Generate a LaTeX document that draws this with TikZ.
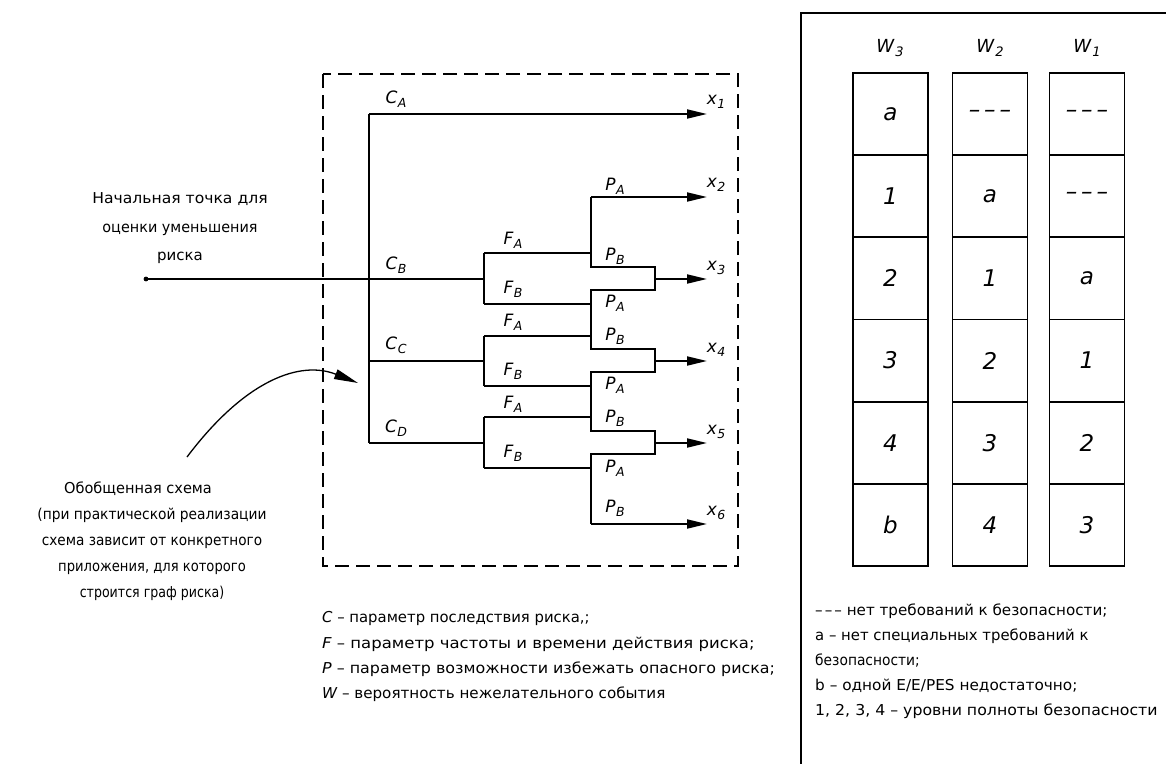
\documentclass[tikz,border=0pt]{standalone}
\usepackage{graphicx}
\usepackage{fontspec}
\setmainfont{DejaVu Sans}
\usetikzlibrary{arrows.meta}
% letter with a lowered index, italic
\newcommand\lab[2]{{\fontsize{17}{17}\selectfont\itshape #1\kern0.5pt\raisebox{-4pt}{\fontsize{12.5}{12.5}\selectfont #2}}}
\newcommand\hdr[2]{{\fontsize{18}{18}\selectfont\itshape #1\kern1pt\raisebox{-4pt}{\fontsize{13}{13}\selectfont #2}}}
\newcommand\tridash[1]{\mbox{–\hspace{#1}–\hspace{#1}–}}
% horizontally widened or narrowed text line
\newcommand\hs[2]{\scalebox{#1}[1]{#2}}
\begin{document}
\begin{tikzpicture}[x=1pt,y=-1pt,
  ln/.style={line width=1.9pt},
  arr/.style={ln,-{Triangle[length=20pt,width=9pt]}},
  lbl/.style={inner sep=0pt},
  txt/.style={inner sep=0pt,font=\fontsize{15}{15}\selectfont},
  cellbox/.style={draw,line width=1.9pt,minimum width=75pt,minimum height=82.17pt,inner sep=0pt,
    font=\fontsize{23}{23}\selectfont\itshape},
]
\useasboundingbox (0,0) rectangle (1166,763);

% ---------- dashed frame of the generic scheme ----------
\draw[line width=1.9pt,dash pattern=on 14pt off 7pt] (323,74) rectangle (738,566);

% ---------- coordinates of the tree ----------
\coordinate (start) at (146,279);
\coordinate (cA) at (369,114);
\coordinate (cB) at (369,279);
\coordinate (cC) at (369,361);
\coordinate (cD) at (369,443);
\coordinate (fB) at (484,279);
\coordinate (fC) at (484,361);
\coordinate (fD) at (484,443);
\coordinate (fBa) at (484,253); \coordinate (fBb) at (484,304);
\coordinate (fCa) at (484,336); \coordinate (fCb) at (484,386);
\coordinate (fDa) at (484,417); \coordinate (fDb) at (484,468);
\coordinate (pBa) at (591,253); \coordinate (pBb) at (591,304);
\coordinate (pCa) at (591,336); \coordinate (pCb) at (591,386);
\coordinate (pDa) at (591,417); \coordinate (pDb) at (591,468);
\coordinate (pTop) at (591,197);
\coordinate (pBot) at (591,524);
\coordinate (m3) at (655,279);
\coordinate (m4) at (655,361);
\coordinate (m5) at (655,443);
\coordinate (o1) at (707,114);
\coordinate (o2) at (707,197);
\coordinate (o3) at (707,279);
\coordinate (o4) at (707,361);
\coordinate (o5) at (707,443);
\coordinate (o6) at (707,524);

% starting point and input line
\fill (start) circle (2.4pt);
\draw[ln] (start) -- (fB);
% consequence branches
\draw[ln] (cA) -- (cD);
\draw[ln] (cC) -- (fC);
\draw[ln] (cD) -- (fD);
% frequency branches
\draw[ln] (fBa) -- (fBb);
\draw[ln] (fCa) -- (fCb);
\draw[ln] (fDa) -- (fDb);
\draw[ln] (fBa) -- (pBa); \draw[ln] (fBb) -- (pBb);
\draw[ln] (fCa) -- (pCa); \draw[ln] (fCb) -- (pCb);
\draw[ln] (fDa) -- (pDa); \draw[ln] (fDb) -- (pDb);
% avoidance branches with their merging loops
\draw[ln] (pTop) -- (591,267) -- (655,267) -- (655,290) -- (591,290)
  -- (591,349) -- (655,349) -- (655,372) -- (591,372)
  -- (591,431) -- (655,431) -- (655,454) -- (591,454) -- (pBot);
% outcomes
\draw[arr] (cA) -- (o1);
\draw[arr] (pTop) -- (o2);
\draw[arr] (m3) -- (o3);
\draw[arr] (m4) -- (o4);
\draw[arr] (m5) -- (o5);
\draw[arr] (pBot) -- (o6);

% branch labels
\node[lbl] (lCA) at (396,99)  {\lab{C}{A}};
\node[lbl] (lCB) at (396,265) {\lab{C}{B}};
\node[lbl] (lCC) at (396,345) {\lab{C}{C}};
\node[lbl] (lCD) at (396,428) {\lab{C}{D}};
\node[lbl] (lFBa) at (513,240) {\lab{F}{A}};
\node[lbl] (lFBb) at (513,289) {\lab{F}{B}};
\node[lbl] (lFCa) at (513,322) {\lab{F}{A}};
\node[lbl] (lFCb) at (513,371) {\lab{F}{B}};
\node[lbl] (lFDa) at (513,404) {\lab{F}{A}};
\node[lbl] (lFDb) at (513,453) {\lab{F}{B}};
\node[lbl] (lP1) at (615,186) {\lab{P}{A}};
\node[lbl] (lP2) at (615,256) {\lab{P}{B}};
\node[lbl] (lP3) at (615,303) {\lab{P}{A}};
\node[lbl] (lP4) at (615,336) {\lab{P}{B}};
\node[lbl] (lP5) at (615,385) {\lab{P}{A}};
\node[lbl] (lP6) at (615,418) {\lab{P}{B}};
\node[lbl] (lP7) at (615,468) {\lab{P}{A}};
\node[lbl] (lP8) at (615,508) {\lab{P}{B}};
\node[lbl] (lx1) at (716,102) {\lab{x}{1}};
\node[lbl] (lx2) at (716,185) {\lab{x}{2}};
\node[lbl] (lx3) at (716,268) {\lab{x}{3}};
\node[lbl] (lx4) at (716,350) {\lab{x}{4}};
\node[lbl] (lx5) at (716,432) {\lab{x}{5}};
\node[lbl] (lx6) at (716,513) {\lab{x}{6}};

% ---------- left annotations ----------
\node[txt,anchor=base] (s1) at (180,203) {\hs{1.04}{Начальная точка для}};
\node[txt,anchor=base] (s2) at (180,232) {\hs{0.96}{оценки уменьшения}};
\node[txt,anchor=base] (s3) at (180,260) {риска};

\coordinate (gTail) at (187,457);
\coordinate (gTip) at (358,383);
\draw[line width=1.3pt,-{Triangle[length=24pt,width=10pt]}]
  (gTail) .. controls (245,380) and (300,360) .. (gTip);

\node[txt,anchor=base] (g1) at (138,493) {\hs{0.97}{Обобщенная схема}};
\node[txt,anchor=base] (g2) at (152,519) {\hs{0.92}{(при практической реализации}};
\node[txt,anchor=base] (g3) at (152,545) {\hs{0.91}{схема зависит от конкретного}};
\node[txt,anchor=base] (g4) at (152,571) {\hs{0.875}{приложения, для которого}};
\node[txt,anchor=base] (g5) at (152,597) {\hs{0.84}{строится граф риска)}};

% ---------- legend of parameters ----------
\node[txt,anchor=base west] (k1) at (322,622) {\hs{0.99}{{\itshape C} – параметр последствия риска,;}};
\node[txt,anchor=base west] (k2) at (322,648) {\hs{1.10}{{\itshape F} – параметр частоты и времени действия риска;}};
\node[txt,anchor=base west] (k3) at (322,673) {\hs{1.06}{{\itshape P} – параметр возможности избежать опасного риска;}};
\node[txt,anchor=base west] (k4) at (322,698) {\hs{1.01}{{\itshape W} – вероятность нежелательного события}};

% ---------- right panel ----------
\coordinate (frR) at (1175,13);
\coordinate (frC) at (801,13);
\coordinate (frB) at (801,775);
\draw[ln] (frR) -- (frC) -- (frB);

\node[lbl] (hW3) at (890,48) {\hdr{W}{3}};
\node[lbl] (hW2) at (990,48) {\hdr{W}{2}};
\node[lbl] (hW1) at (1087,48) {\hdr{W}{1}};

% column W3
\node[cellbox] (a1) at (890.5,114.1) {a};
\node[cellbox] (a2) at (890.5,196.25) {1};
\node[cellbox] (a3) at (890.5,278.4) {2};
\node[cellbox] (a4) at (890.5,360.6) {3};
\node[cellbox] (a5) at (890.5,442.8) {4};
\node[cellbox] (a6) at (890.5,524.9) {b};
% column W2
\node[cellbox] (b1) at (990,114.1) {\tridash{4pt}};
\node[cellbox] (b2) at (990,196.25) {a};
\node[cellbox] (b3) at (990,278.4) {1};
\node[cellbox] (b4) at (990,360.6) {2};
\node[cellbox] (b5) at (990,442.8) {3};
\node[cellbox] (b6) at (990,524.9) {4};
% column W1
\node[cellbox] (c1) at (1087,114.1) {\tridash{4pt}};
\node[cellbox] (c2) at (1087,196.25) {\tridash{4pt}};
\node[cellbox] (c3) at (1087,278.4) {a};
\node[cellbox] (c4) at (1087,360.6) {1};
\node[cellbox] (c5) at (1087,442.8) {2};
\node[cellbox] (c6) at (1087,524.9) {3};

% legend of the table
\node[txt,anchor=base west] (r1) at (815,615) {\hs{1.01}{\tridash{2pt} нет требований к безопасности;}};
\node[txt,anchor=base west] (r2) at (815,640) {\hs{0.99}{а – нет специальных требований к}};
\node[txt,anchor=base west] (r3) at (815,665) {\hs{0.92}{безопасности;}};
\node[txt,anchor=base west] (r4) at (815,690) {\hs{1.02}{b – одной E/E/PES недостаточно;}};
\node[txt,anchor=base west] (r5) at (815,715) {\hs{1.05}{1, 2, 3, 4 – уровни полноты безопасности}};
\end{tikzpicture}
\end{document}
